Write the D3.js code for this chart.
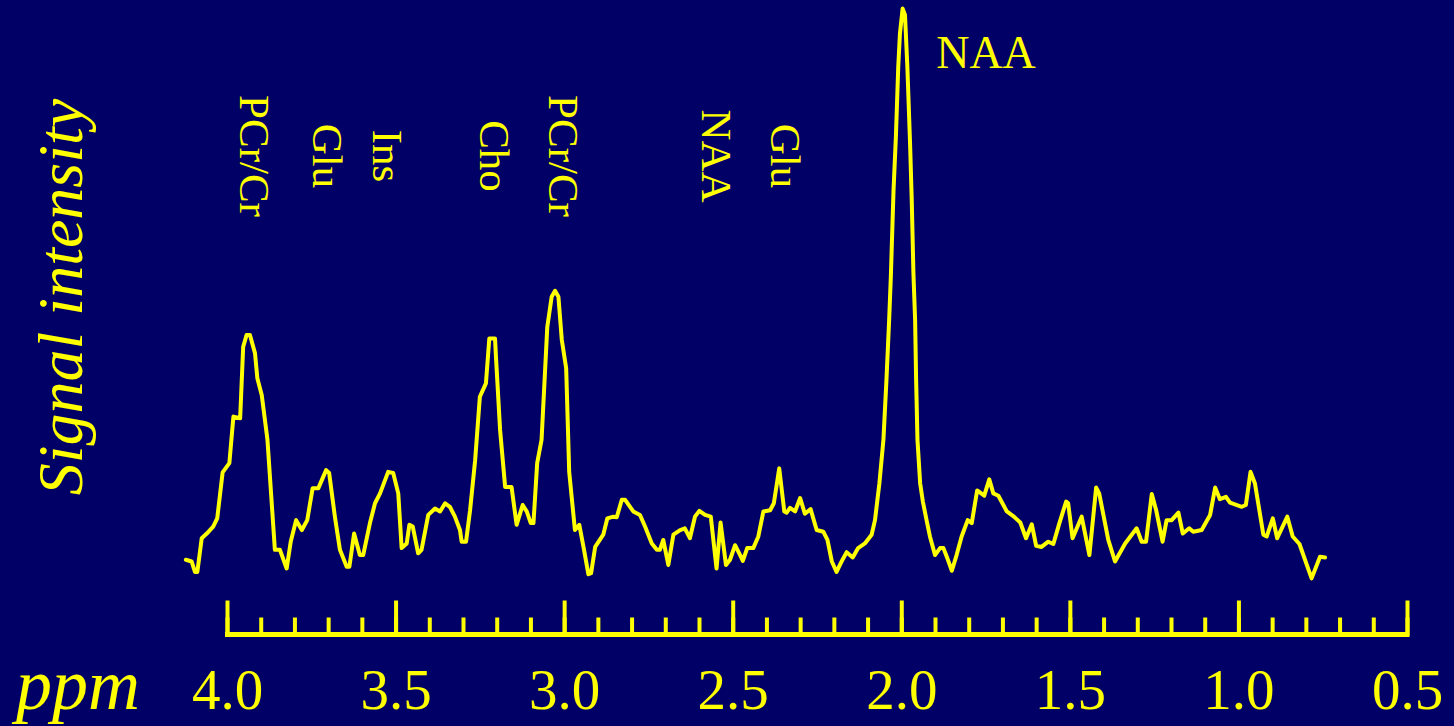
<!DOCTYPE html>
<html>
<head>
<meta charset="utf-8">
<script src="https://cdn.jsdelivr.net/npm/d3@7"></script>
<style>
	html, body { margin: 0; padding: 0; background: #000066; }
	svg { display: block; }
</style>
</head>
<body>
<div id="chart"></div>
<script>
// chemical shift (ppm) and signal intensity (a.u.)
var ppm = [4.122, 4.105, 4.095, 4.088, 4.075, 4.060, 4.041, 4.029, 4.013, 3.993,
	3.981, 3.961, 3.952, 3.942, 3.932, 3.917, 3.910, 3.897, 3.880, 3.858,
	3.843, 3.823, 3.811, 3.795, 3.778, 3.762, 3.746, 3.729, 3.706, 3.697,
	3.680, 3.665, 3.645, 3.637, 3.623, 3.606, 3.596, 3.576, 3.561, 3.546,
	3.522, 3.507, 3.492, 3.482, 3.467, 3.459, 3.449, 3.433, 3.423, 3.403,
	3.383, 3.368, 3.353, 3.339, 3.324, 3.309, 3.304, 3.291, 3.279, 3.264,
	3.250, 3.232, 3.222, 3.205, 3.202, 3.190, 3.175, 3.156, 3.141, 3.123,
	3.111, 3.099, 3.091, 3.080, 3.067, 3.050, 3.037, 3.027, 3.017, 3.007,
	2.994, 2.985, 2.968, 2.955, 2.941, 2.928, 2.920, 2.908, 2.884, 2.872,
	2.854, 2.844, 2.829, 2.819, 2.795, 2.775, 2.760, 2.740, 2.725, 2.716,
	2.706, 2.691, 2.676, 2.656, 2.642, 2.627, 2.612, 2.599, 2.582, 2.565,
	2.548, 2.536, 2.520, 2.508, 2.493, 2.478, 2.470, 2.457, 2.439, 2.424,
	2.409, 2.389, 2.378, 2.362, 2.347, 2.340, 2.330, 2.315, 2.300, 2.286,
	2.269, 2.251, 2.231, 2.219, 2.206, 2.192, 2.177, 2.162, 2.144, 2.128,
	2.108, 2.088, 2.078, 2.065, 2.053, 2.044, 2.036, 2.031, 2.023, 2.016,
	2.009, 2.004, 1.996, 1.989, 1.982, 1.974, 1.969, 1.964, 1.959, 1.956,
	1.952, 1.944, 1.936, 1.924, 1.915, 1.900, 1.885, 1.875, 1.863, 1.850,
	1.836, 1.821, 1.803, 1.791, 1.775, 1.754, 1.739, 1.727, 1.712, 1.687,
	1.668, 1.647, 1.630, 1.613, 1.600, 1.584, 1.564, 1.549, 1.531, 1.511,
	1.505, 1.492, 1.465, 1.442, 1.422, 1.413, 1.386, 1.366, 1.336, 1.302,
	1.287, 1.274, 1.257, 1.244, 1.225, 1.213, 1.198, 1.178, 1.165, 1.146,
	1.134, 1.109, 1.084, 1.069, 1.055, 1.037, 1.025, 0.990, 0.978, 0.964,
	0.951, 0.926, 0.916, 0.898, 0.885, 0.855, 0.839, 0.819, 0.783, 0.758,
	0.743];
var intensity = [5.2, 4.9, 3.1, 3.1, 8.9, 9.7, 10.9, 12.3, 20.2, 21.8,
	29.8, 29.5, 41.8, 43.8, 43.8, 40.7, 36.4, 33.5, 25.8, 6.9,
	6.9, 3.7, 8.3, 12.0, 10.3, 12.0, 17.5, 17.5, 20.6, 20.1,
	12.6, 6.9, 4.0, 4.0, 9.7, 6.0, 6.0, 11.5, 14.9, 16.6,
	20.3, 20.1, 16.6, 7.2, 8.0, 11.2, 10.9, 6.3, 6.9, 12.9,
	14.0, 13.5, 14.9, 14.3, 12.6, 10.3, 8.3, 8.3, 13.7, 22.3,
	33.2, 35.5, 43.2, 43.2, 39.8, 27.5, 17.7, 17.7, 11.2, 14.6,
	13.5, 11.5, 11.5, 21.8, 25.8, 45.2, 50.4, 51.4, 50.4, 43.0,
	38.1, 20.3, 10.3, 11.2, 6.9, 2.7, 2.9, 7.4, 9.5, 12.3,
	12.6, 12.5, 15.5, 15.5, 13.5, 12.9, 10.9, 8.0, 6.9, 6.9,
	8.6, 4.3, 9.5, 10.3, 10.6, 8.9, 12.6, 13.6, 12.9, 12.6,
	3.7, 11.6, 4.3, 5.2, 7.7, 6.0, 5.0, 7.2, 7.2, 9.2,
	13.5, 13.7, 14.9, 20.9, 13.5, 13.3, 14.1, 13.5, 15.8, 13.1,
	13.9, 10.3, 10.0, 8.6, 4.9, 3.1, 4.9, 6.5, 5.6, 7.2,
	8.0, 9.5, 12.0, 18.3, 25.8, 36.1, 46.4, 53.8, 68.7, 77.9,
	89.9, 95.6, 99.9, 98.8, 89.9, 76.8, 67.0, 54.4, 46.4, 36.1,
	25.8, 18.3, 15.2, 11.7, 9.2, 6.0, 7.2, 7.2, 5.4, 3.3,
	6.0, 9.2, 12.0, 11.5, 17.1, 16.2, 19.0, 16.6, 16.2, 13.5,
	12.7, 11.6, 8.9, 11.3, 7.6, 7.4, 8.3, 7.9, 11.5, 15.2,
	14.9, 8.9, 12.6, 6.0, 17.6, 16.6, 8.6, 4.9, 8.0, 10.6,
	8.3, 8.3, 16.5, 13.7, 8.3, 12.0, 12.0, 13.3, 9.7, 10.6,
	10.0, 10.3, 12.9, 17.6, 15.6, 16.0, 15.0, 14.3, 14.6, 20.3,
	18.3, 9.5, 9.2, 12.3, 8.9, 12.6, 9.2, 7.9, 2.0, 5.7,
	5.6];

var majorTicks = [4.0, 3.5, 3.0, 2.5, 2.0, 1.5, 1.0, 0.5];
var minorTicks = d3.range(40, 4, -1).map(function(d){ return d / 10; });

// metabolite labels and the shift they sit over
var peakNames = ['PCr/Cr', 'Glu', 'Ins', 'Cho', 'PCr/Cr', 'NAA', 'Glu'];
var peakPpm = [3.920, 3.703, 3.525, 3.208, 3.003, 2.549, 2.343];
var mainPeakName = 'NAA';

var width = 1454, height = 726;
var yellow = '#ffff00';
var serif = '"Liberation Serif", "Times New Roman", Times, serif';

var svg = d3.select('#chart').append('svg')
	.attr('width', width).attr('height', height);

svg.append('rect')
	.attr('width', width).attr('height', height)
	.attr('fill', '#000066');

var x = d3.scaleLinear().domain([4.0, 0.5]).range([227, 1407]);
var y = d3.scaleLinear().domain([0, 100]).range([590, 8]);

var spectrum = ppm.map(function(d, i){ return [d, intensity[i]]; });

var line = d3.line()
	.x(function(d){ return x(d[0]); })
	.y(function(d){ return y(d[1]); });

svg.append('path')
	.datum(spectrum)
	.attr('d', line)
	.attr('fill', 'none')
	.attr('stroke', yellow)
	.attr('stroke-width', 4)
	.attr('stroke-linejoin', 'round')
	.attr('stroke-linecap', 'round');

// ppm axis
var axisY = 634.5;
var axis_g = svg.append('g').attr('transform', 'translate(' + [0, axisY] + ')');

axis_g.append('g')
	.call(d3.axisTop(x).tickValues(minorTicks).tickSize(15).tickFormat(''))
	.call(function(g){ g.select('.domain').remove(); });

axis_g.append('g')
	.call(d3.axisTop(x).tickValues(majorTicks).tickSize(32).tickFormat(''))
	.call(function(g){ g.select('.domain').remove(); });

axis_g.selectAll('.tick line')
	.attr('stroke', yellow)
	.attr('stroke-width', 4)
	.attr('stroke-linecap', 'square');

axis_g.append('line')
	.attr('x1', x(4.0) - 2).attr('x2', x(0.5) + 2)
	.attr('stroke', yellow)
	.attr('stroke-width', 5);

var label_g = svg.append('g')
	.attr('transform', 'translate(' + [0, axisY] + ')')
	.call(d3.axisBottom(x).tickValues(majorTicks).tickSize(0).tickPadding(0)
		.tickFormat(d3.format('.1f')));
label_g.select('.domain').remove();
label_g.selectAll('text')
	.attr('y', 74)
	.attr('dy', 0)
	.attr('fill', yellow)
	.attr('font-family', serif)
	.attr('font-size', 57);

svg.append('text')
	.attr('x', 16).attr('y', 709)
	.attr('fill', yellow)
	.attr('font-family', serif)
	.attr('font-style', 'italic')
	.attr('font-size', 72)
	.text('ppm');

svg.append('text')
	.attr('transform', 'translate(82,297) rotate(-90)')
	.attr('text-anchor', 'middle')
	.attr('fill', yellow)
	.attr('font-family', serif)
	.attr('font-style', 'italic')
	.attr('font-size', 64)
	.text('Signal intensity');

// rotated metabolite labels
svg.selectAll('.peak-label').data(peakNames).enter().append('text')
	.attr('class', 'peak-label')
	.attr('transform', function(d, i){
		return 'translate(' + [x(peakPpm[i]), 156] + ') rotate(90)';
	})
	.attr('text-anchor', 'middle')
	.attr('dy', '0.33em')
	.attr('fill', yellow)
	.attr('font-family', serif)
	.attr('font-size', 43)
	.text(function(d){ return d; });

svg.append('text')
	.attr('x', 986).attr('y', 68)
	.attr('text-anchor', 'middle')
	.attr('fill', yellow)
	.attr('font-family', serif)
	.attr('font-size', 46)
	.text(mainPeakName);
</script>
</body>
</html>
